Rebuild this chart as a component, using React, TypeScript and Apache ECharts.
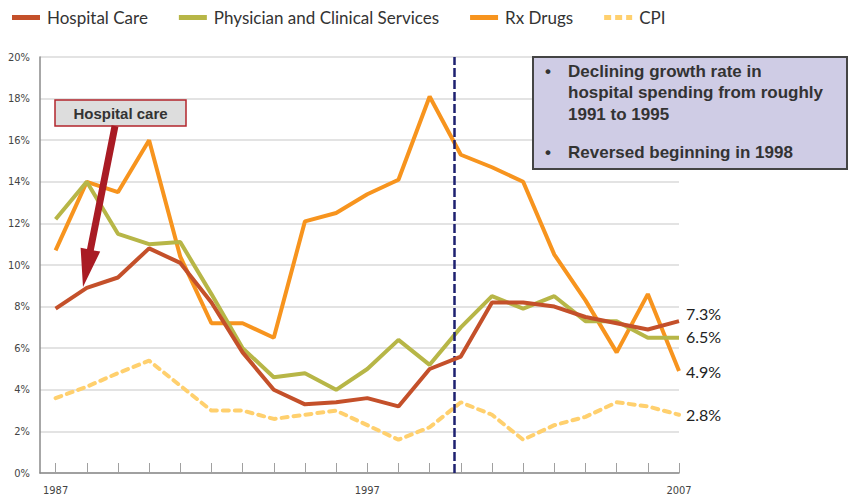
import React, { useEffect, useRef } from "react";
import * as echarts from "echarts";

const years = [1987, 1988, 1989, 1990, 1991, 1992, 1993, 1994, 1995, 1996, 1997, 1998, 1999, 2000, 2001, 2002, 2003, 2004, 2005, 2006, 2007];
const xLabelYears = [1987, 1997, 2007];
const hospitalCare = [7.9, 8.9, 9.4, 10.8, 10.1, 8.2, 5.8, 4.0, 3.3, 3.4, 3.6, 3.2, 5.0, 5.6, 8.2, 8.2, 8.0, 7.5, 7.2, 6.9, 7.3];
const physician = [12.2, 14.0, 11.5, 11.0, 11.1, 8.6, 6.0, 4.6, 4.8, 4.0, 5.0, 6.4, 5.2, 7.0, 8.5, 7.9, 8.5, 7.3, 7.3, 6.5, 6.5];
const rxDrugs = [10.7, 14.0, 13.5, 16.0, 10.4, 7.2, 7.2, 6.5, 12.1, 12.5, 13.4, 14.1, 18.1, 15.3, 14.7, 14.0, 10.5, 8.3, 5.8, 8.6, 4.9];
const cpi = [3.6, 4.15, 4.8, 5.4, 4.2, 3.0, 3.0, 2.6, 2.8, 3.0, 2.3, 1.6, 2.2, 3.4, 2.8, 1.6, 2.3, 2.7, 3.4, 3.2, 2.8];
const markerYear = 1999.8;
const seriesNames = ["Hospital Care", "Physician and Clinical Services", "Rx Drugs", "CPI"];
const annotationLines = ["Declining growth rate in", "hospital spending from roughly", "1991 to 1995"];
const annotationLine2 = "Reversed beginning in 1998";
const calloutText = "Hospital care";

const pair = (vals: number[]) => years.map((y, i) => [y, vals[i]]);

const solidIcon = "path://M0,0h28v5h-28z";
const dashIcon = "path://M0,0h7v5h-7z M11,0h7v5h-7z M22,0h6v5h-6z";

export default function App() {
  const ref = useRef<HTMLDivElement>(null);
  useEffect(() => {
    if (!ref.current) return;
    const chart = echarts.init(ref.current, null, { renderer: "svg" });
    const endLabel = (offset: number[]) => ({
      show: true,
      formatter: (p: any) => p.value[1].toFixed(1) + "%",
      fontFamily: "Lato, sans-serif",
      fontSize: 16,
      color: "#222",
      distance: 7,
      offset,
    });
    const mkLine = (name: string, vals: number[], color: string, extra: any = {}) => ({
      name,
      type: "line",
      data: pair(vals),
      symbol: "none",
      lineStyle: { color, width: 4, ...(extra.lineStyle || {}) },
      itemStyle: { color },
      endLabel: extra.endLabel,
      markLine: extra.markLine,
      z: extra.z ?? 2,
    });
    const boldFont = "bold 17px 'Liberation Sans', Arial, sans-serif";
    const graphic: any[] = [
      {
        type: "rect",
        z: 100,
        shape: { x: 533, y: 57, width: 314, height: 112 },
        style: { fill: "#CFCCE5", stroke: "#444", lineWidth: 2 },
      },
      ...annotationLines.map((t, i) => ({
        type: "text",
        z: 101,
        x: 568,
        y: 71 + i * 21.5,
        style: { text: t, font: boldFont, fill: "#333", textVerticalAlign: "middle" },
      })),
      { type: "text", z: 101, x: 545, y: 71, style: { text: "•", font: boldFont, fill: "#333", textVerticalAlign: "middle" } },
      { type: "text", z: 101, x: 545, y: 152, style: { text: "•", font: boldFont, fill: "#333", textVerticalAlign: "middle" } },
      {
        type: "text",
        z: 101,
        x: 568,
        y: 152,
        style: { text: annotationLine2, font: boldFont, fill: "#333", textVerticalAlign: "middle" },
      },
      {
        type: "rect",
        z: 100,
        shape: { x: 55, y: 100, width: 131, height: 26 },
        style: { fill: "#DDDDDD", stroke: "#B3262D", lineWidth: 1.5 },
      },
      {
        type: "text",
        z: 101,
        x: 120.5,
        y: 113,
        style: {
          text: calloutText,
          font: "bold 15px 'Liberation Sans', Arial, sans-serif",
          fill: "#333",
          textAlign: "center",
          textVerticalAlign: "middle",
        },
      },
      {
        type: "polygon",
        z: 100,
        shape: {
          points: [
            [111.6, 125.3],
            [118.4, 126.7],
            [93.8, 250.4],
            [100.2, 251.6],
            [83, 287],
            [80.6, 247.8],
            [87.0, 249.0],
          ],
        },
        style: { fill: "#A91B24" },
      },
    ];
    const option: any = {
      animation: false,
      backgroundColor: "#fff",
      legend: {
        data: [
          { name: seriesNames[0], icon: solidIcon },
          { name: seriesNames[1], icon: solidIcon },
          { name: seriesNames[2], icon: solidIcon },
          { name: seriesNames[3], icon: dashIcon },
        ],
        left: 7,
        top: 4,
        itemWidth: 28,
        itemHeight: 5,
        itemGap: 31,
        textStyle: { fontFamily: "Lato, sans-serif", fontSize: 17, color: "#333", padding: [0, 0, 0, 2] },
      },
      grid: { left: 40, right: 171, top: 57, bottom: 28 },
      xAxis: {
        type: "value",
        min: 1986.5,
        max: 2007,
        axisLine: { lineStyle: { color: "#8a8a8a", width: 1.5 } },
        axisTick: { inside: true, length: 10, customValues: years, lineStyle: { color: "#a0a0a0" } },
        axisLabel: {
          customValues: xLabelYears,
          formatter: (v: number) => String(v),
          margin: 12,
          fontFamily: "'Liberation Sans Narrow', 'DejaVu Sans Condensed', sans-serif",
          fontSize: 11,
          color: "#444",
        },
        splitLine: { show: false },
      },
      yAxis: {
        type: "value",
        min: 0,
        max: 20,
        interval: 2,
        axisLine: { show: true, lineStyle: { color: "#8a8a8a", width: 1.5 } },
        axisTick: { show: false },
        axisLabel: {
          formatter: "{value}%",
          margin: 10,
          fontFamily: "'Liberation Sans Narrow', 'DejaVu Sans Condensed', sans-serif",
          fontSize: 11,
          color: "#444",
        },
        splitLine: { lineStyle: { color: "#dadada", width: 1.5 } },
      },
      series: [
        mkLine(seriesNames[3], cpi, "#FFD06E", {
          lineStyle: { type: [6, 6], cap: "round" },
          endLabel: endLabel([0, 0]),
          z: 2,
        }),
        mkLine(seriesNames[2], rxDrugs, "#F7941E", { endLabel: endLabel([0, 0]), z: 3 }),
        mkLine(seriesNames[1], physician, "#B7B647", { endLabel: endLabel([0, -1]), z: 4 }),
        mkLine(seriesNames[0], hospitalCare, "#C4502A", {
          endLabel: endLabel([0, -8]),
          z: 5,
          markLine: {
            silent: true,
            symbol: "none",
            label: { show: false },
            lineStyle: { color: "#1E2170", type: [9, 3], width: 2.5 },
            data: [{ xAxis: markerYear }],
          },
        }),
      ],
      graphic,
    };
    chart.setOption(option);
    return () => chart.dispose();
  }, []);
  return <div ref={ref} style={{ position: "fixed", left: 0, top: 0, width: 850, height: 501 }} />;
}
